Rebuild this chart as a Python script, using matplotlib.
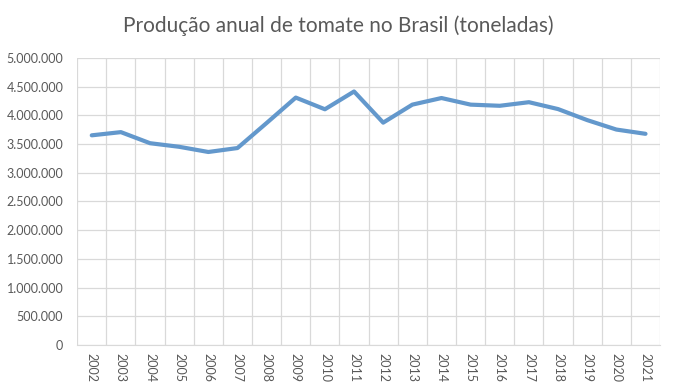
import matplotlib.pyplot as plt
import numpy as np
from matplotlib.ticker import FuncFormatter, MultipleLocator

plt.rcParams['font.family'] = ['Lato', 'DejaVu Sans']

anos = [str(a) for a in range(2002, 2022)]
producao = [3652923, 3708602, 3515567, 3452973, 3362655, 3431232, 3867655,
            4310477, 4106846, 4416652, 3873985, 4187729, 4302777, 4187646,
            4167629, 4230150, 4110242, 3917967, 3753595, 3679160]

fig = plt.figure(figsize=(6.77, 3.92), dpi=100)
ax = fig.add_axes([0.114, 0.120, 0.861, 0.732])

x = np.arange(len(anos))
ax.plot(x, producao, color='#6398CC', linewidth=3.0, solid_capstyle='round',
        solid_joinstyle='round', zorder=3)

ax.set_xlim(-0.5, len(anos) - 0.5)
ax.set_ylim(0, 5000000)
ax.yaxis.set_major_locator(MultipleLocator(500000))
ax.yaxis.set_major_formatter(FuncFormatter(lambda v, p: f"{int(v):,}".replace(",", ".")))

# grade vertical entre as categorias
ax.set_xticks(np.arange(-0.5, len(anos), 1.0), minor=False)
ax.set_xticklabels([])
ax.set_xticks(x, minor=True)
ax.set_xticklabels(anos, minor=True, rotation=-90, fontsize=9, color='#595959')
ax.tick_params(axis='x', which='both', length=0, pad=6)
ax.tick_params(axis='y', length=0, labelsize=9, labelcolor='#595959', pad=10)
ax.grid(True, which='major', color='#D9D9D9', linewidth=0.9)
ax.set_axisbelow(True)

for s in ['top', 'right', 'left']:
    ax.spines[s].set_visible(False)
ax.spines['bottom'].set_color('#D9D9D9')

fig.text(0.499, 0.935, 'Produção anual de tomate no Brasil (toneladas)',
         ha='center', va='center', fontsize=15, color='#595959')

fig.savefig('out.png', dpi=100)
